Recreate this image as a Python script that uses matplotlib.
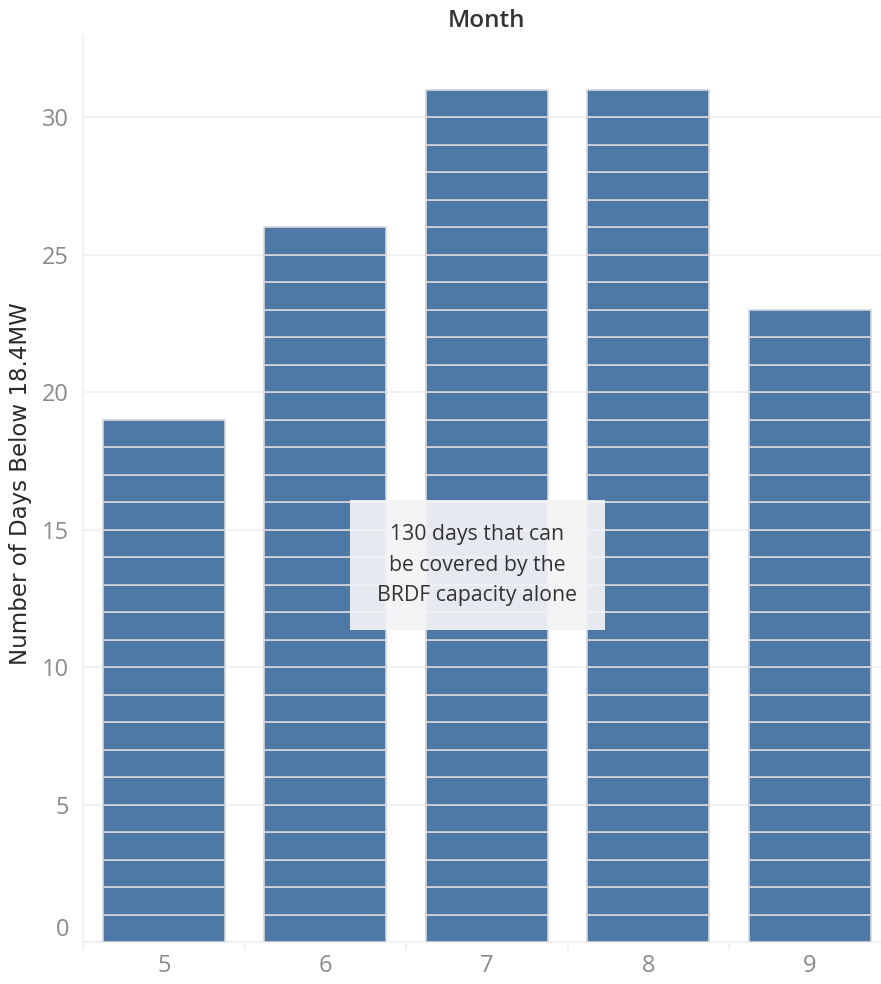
import numpy as np
import matplotlib.pyplot as plt
from matplotlib.patches import Rectangle

months = [5, 6, 7, 8, 9]
days_below = [19, 26, 31, 31, 23]

bar_color = "#4e79a7"
seg_edge = "#d4d7dc"
grid_color = "#f0f0f0"
tick_color = "#8a8a8a"

plt.rcParams['font.family'] = ['Open Sans', 'DejaVu Sans']

fig = plt.figure(figsize=(8.81, 9.84), dpi=100)
ax = fig.add_axes([83 / 881, 42 / 984, 798 / 881, 907 / 984])

# each month is a stack of one-day segments
for m, n in zip(months, days_below):
    ax.bar([m] * n, np.ones(n), bottom=np.arange(n), width=0.755,
           color=bar_color, edgecolor=seg_edge, linewidth=1.2, zorder=3)

ax.set_yticks([0, 5, 10, 15, 20, 25, 30])
ax.set_xticks(months)
ax.set_xticks(np.arange(4.5, 9.0, 1.0), minor=True)
# limits after the ticks, so the tick call can't widen them
ax.set_xlim(4.5, 9.44)
ax.set_ylim(0, 33.0)

ax.tick_params(axis='x', which='major', length=0, labelsize=17, labelcolor=tick_color, pad=9)
ax.tick_params(axis='x', which='minor', length=6, color=grid_color, width=1.2)
ax.tick_params(axis='y', length=0, labelsize=17, labelcolor=tick_color, pad=10)

# bottom label sits above the axis line
for lbl in ax.get_yticklabels():
    if lbl.get_text() == '0':
        lbl.set_verticalalignment('bottom')

ax.grid(axis='y', color=grid_color, linewidth=1.2, zorder=0)
for side in ['top', 'right']:
    ax.spines[side].set_visible(False)
ax.spines['left'].set_color(grid_color)
ax.spines['left'].set_linewidth(1.2)
ax.spines['bottom'].set_color(grid_color)
ax.spines['bottom'].set_linewidth(1.2)

fig.text(21 / 881, 1 - 484 / 984, "Number of Days Below 18.4MW",
         rotation=90, ha='center', va='center', fontsize=16.5,
         color="#2a2a2a", family=['DejaVu Sans'])
fig.text(487 / 881, 1 - 21 / 984, "Month", ha='center', va='center',
         fontsize=17.5, fontweight='semibold', color="#333333")

box = Rectangle((350 / 881, 1 - 630 / 984), 255 / 881, 130 / 984,
                transform=fig.transFigure, facecolor="#f3f4f6", alpha=0.93,
                edgecolor='none', zorder=10)
fig.patches.append(box)
fig.text(477 / 881, 1 - 565 / 984,
         "130 days that can\nbe covered by the\nBRDF capacity alone",
         ha='center', va='center', fontsize=15.3, color="#333333",
         linespacing=1.6, zorder=11)

fig.savefig("out.png", dpi=100)
